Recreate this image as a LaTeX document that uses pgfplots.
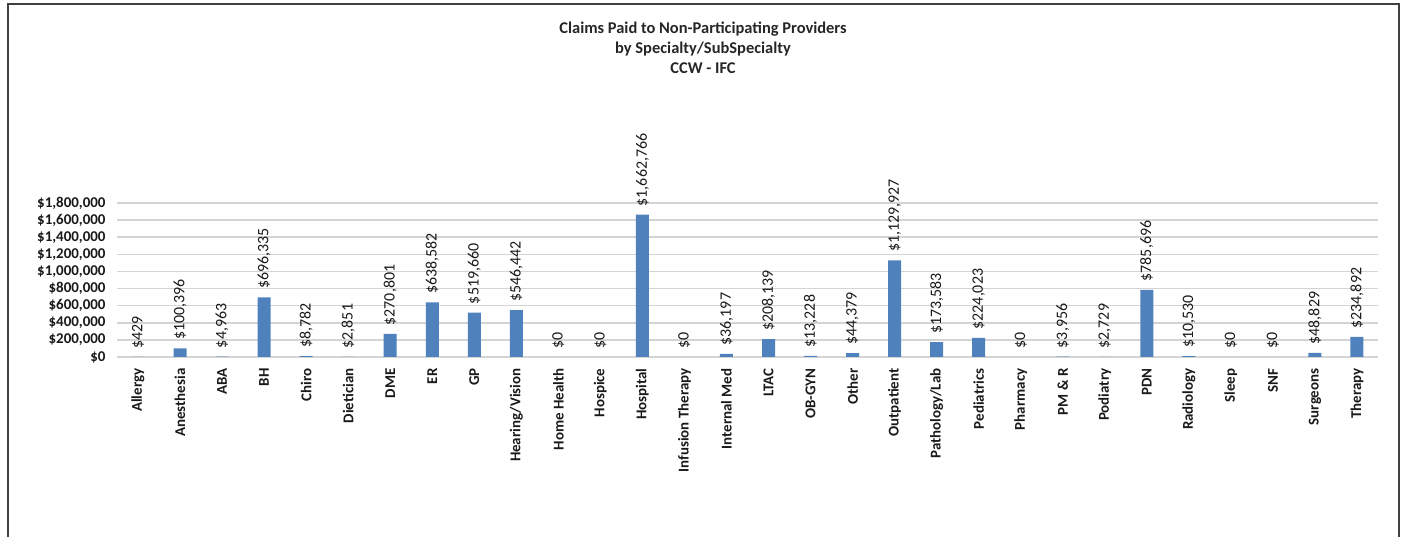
\documentclass[border=0pt]{standalone}
\usepackage{pgfplots}
\pgfplotsset{compat=1.18}
\usepackage{fontspec}
\setmainfont{Carlito}

\definecolor{barblue}{HTML}{4F81BD}
\definecolor{gridgray}{HTML}{D4D4D4}
\definecolor{framegray}{HTML}{404040}

% category, value, label text
\pgfplotstableread{
x  y        label
0  429      429
1  100396   100,396
2  4963     4,963
3  696335   696,335
4  8782     8,782
5  2851     2,851
6  270801   270,801
7  638582   638,582
8  519660   519,660
9  546442   546,442
10 0        0
11 0        0
12 1662766  1,662,766
13 0        0
14 36197    36,197
15 208139   208,139
16 13228    13,228
17 44379    44,379
18 1129927  1,129,927
19 173583   173,583
20 224023   224,023
21 0        0
22 3956     3,956
23 2729     2,729
24 785696   785,696
25 10530    10,530
26 0        0
27 0        0
28 48829    48,829
29 234892   234,892
}\claims

\begin{document}
\begin{tikzpicture}
\useasboundingbox (0,0) rectangle (1408bp,537bp);
\draw[framegray, line width=1.2bp] (8bp,0) -- (8bp,533bp) -- (1399bp,533bp) -- (1399bp,0);
\node[font=\fontsize{16.5}{20}\selectfont\bfseries, align=center, text=black!85]
  at (703bp,489bp) {Claims Paid to Non-Participating Providers\\by Specialty/SubSpecialty\\CCW - IFC};
\begin{axis}[
    at={(117bp,180bp)}, anchor=south west,
    scale only axis,
    width=1261bp, height=154bp,
    ybar, bar width=13bp, bar shift=0pt,
    xmin=-0.5, xmax=29.5,
    ymin=0, ymax=1800000,
    ytick={0,200000,...,1800000},
    scaled y ticks=false,
    /pgf/number format/assume math mode=true,
    yticklabel={\$\pgfmathprintnumber[fixed,precision=0,1000 sep={,}]{\tick}},
    yticklabel style={font=\fontsize{15}{17}\selectfont\bfseries, text=black!90, xshift=-8bp},
    xtick={0,...,29},
    xticklabels={Allergy,Anesthesia,ABA,BH,Chiro,Dietician,DME,ER,GP,Hearing/Vision,Home Health,Hospice,Hospital,Infusion Therapy,Internal Med,LTAC,OB-GYN,Other,Outpatient,Pathology/Lab,Pediatrics,Pharmacy,PM \& R,Podiatry,PDN,Radiology,Sleep,SNF,Surgeons,Therapy},
    xticklabel style={rotate=90, anchor=east, font=\fontsize{15}{17}\selectfont\bfseries, text=black!90, xshift=-8bp},
    major tick length=0pt,
    axis line style={draw=none},
    ymajorgrids,
    grid style={gridgray, line width=1.6bp},
    nodes near coords={\$\pgfplotspointmeta},
    point meta=explicit symbolic,
    every node near coord/.append style={rotate=90, anchor=west, font=\fontsize{16}{18}\selectfont, text=black!90, xshift=5bp},
  ]
  \addplot[fill=barblue, draw=none] table[x=x, y=y, meta=label] {\claims};
\end{axis}
\end{tikzpicture}
\end{document}
